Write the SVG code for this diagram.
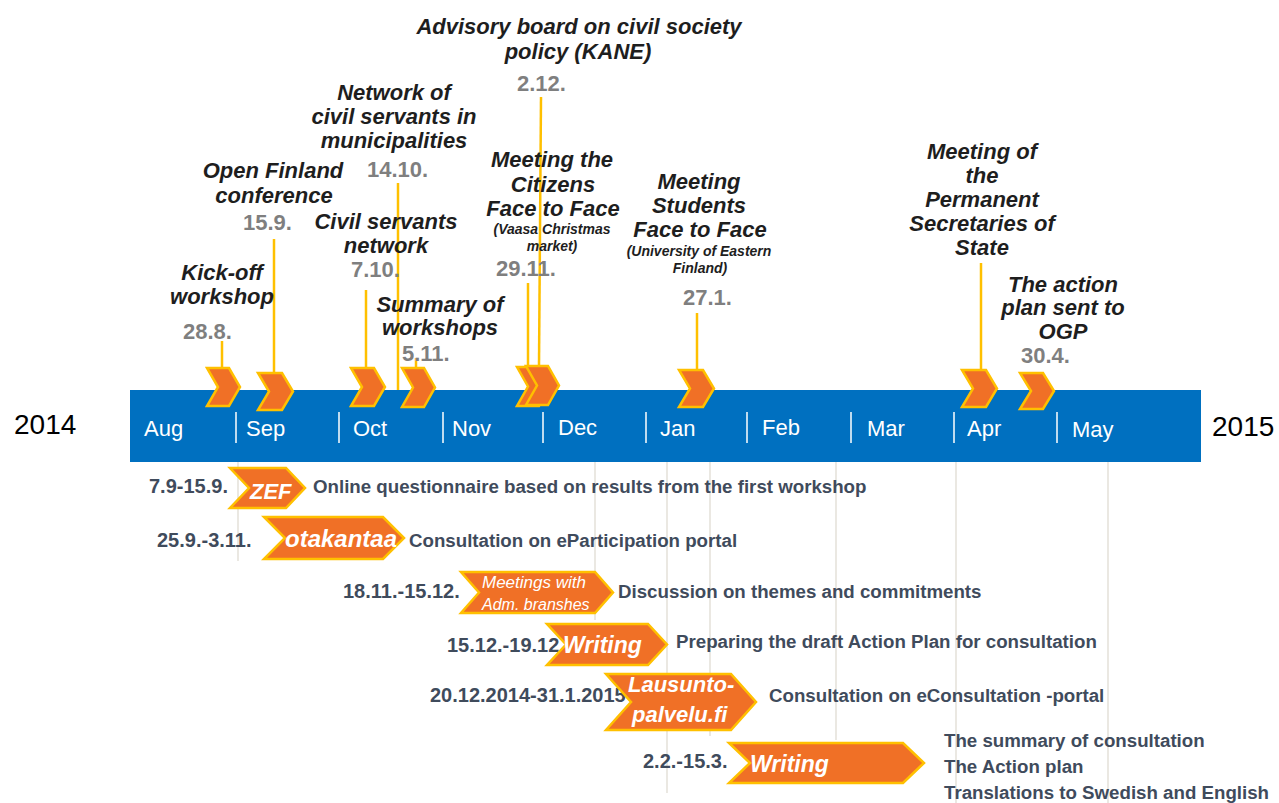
<svg xmlns="http://www.w3.org/2000/svg" width="1279" height="803" viewBox="0 0 1279 803">
<style>
.lbl{font-family:"Liberation Sans",Arial,sans-serif;font-weight:bold;font-style:italic;font-size:22px;fill:#1e1e1e;text-anchor:middle}
.sm{font-family:"Liberation Sans",Arial,sans-serif;font-weight:bold;font-style:italic;font-size:14px;fill:#1e1e1e;text-anchor:middle}
.dt{font-family:"Liberation Sans",Arial,sans-serif;font-weight:bold;font-size:22px;fill:#7f7f7f}
.mo{font-family:"Liberation Sans",Arial,sans-serif;font-size:22px;fill:#ffffff}
.yr{font-family:"Liberation Sans",Arial,sans-serif;font-size:28px;fill:#000000}
.bd{font-family:"Liberation Sans",Arial,sans-serif;font-weight:bold;font-size:20px;fill:#3f4b5c}
.ds{font-family:"Liberation Sans",Arial,sans-serif;font-weight:bold;font-size:18.7px;fill:#3f4b5c}
.ct{font-family:"Liberation Sans",Arial,sans-serif;font-weight:bold;font-style:italic;font-size:23px;fill:#ffffff}
.ci{font-family:"Liberation Sans",Arial,sans-serif;font-style:italic;font-size:17px;fill:#ffffff}
.chev{fill:#f07026;stroke:#ffc000;stroke-width:2.5;stroke-linejoin:miter}
.stem{stroke:#ffc000;stroke-width:2.5;fill:none}
.tick{stroke:#ffffff;stroke-width:1.5}
.grid{stroke:#ddd9cf;stroke-width:1.2}
</style>

<g id="gridlines">
<line class="grid" x1="238" y1="462" x2="238" y2="561"/>
<line class="grid" x1="595" y1="462" x2="595" y2="620"/>
<line class="grid" x1="667" y1="462" x2="667" y2="793"/>
<line class="grid" x1="710" y1="462" x2="710" y2="736"/>
<line class="grid" x1="836" y1="462" x2="836" y2="740"/>
<line class="grid" x1="956" y1="462" x2="956" y2="803"/>
<line class="grid" x1="1108" y1="462" x2="1108" y2="803"/>
</g>

<g id="timeline">
<rect x="130" y="390" width="1071" height="72" fill="#0070c0"/>
<line class="tick" x1="236" y1="412" x2="236" y2="443"/>
<line class="tick" x1="339" y1="412" x2="339" y2="443"/>
<line class="tick" x1="443" y1="412" x2="443" y2="443"/>
<line class="tick" x1="543" y1="412" x2="543" y2="443"/>
<line class="tick" x1="646" y1="412" x2="646" y2="443"/>
<line class="tick" x1="747" y1="412" x2="747" y2="443"/>
<line class="tick" x1="851" y1="412" x2="851" y2="443"/>
<line class="tick" x1="954" y1="412" x2="954" y2="443"/>
<line class="tick" x1="1057" y1="412" x2="1057" y2="443"/>
<text class="mo" x="144" y="436">Aug</text>
<text class="mo" x="246" y="436">Sep</text>
<text class="mo" x="353" y="436">Oct</text>
<text class="mo" x="452" y="436">Nov</text>
<text class="mo" x="558" y="435">Dec</text>
<text class="mo" x="660" y="436">Jan</text>
<text class="mo" x="762" y="435">Feb</text>
<text class="mo" x="867" y="436">Mar</text>
<text class="mo" x="967" y="436">Apr</text>
<text class="mo" x="1072" y="437">May</text>
<text class="yr" x="14" y="434">2014</text>
<text class="yr" x="1212" y="436">2015</text>
</g>

<g id="connectors">
<line class="stem" x1="222" y1="341" x2="222" y2="368"/>
<line class="stem" x1="274" y1="239" x2="274" y2="373"/>
<line class="stem" x1="366" y1="290" x2="366" y2="368"/>
<line class="stem" x1="398" y1="183" x2="398" y2="390"/>
<line class="stem" x1="416" y1="358" x2="416" y2="368"/>
<line class="stem" x1="528" y1="283" x2="528" y2="367"/>
<line class="stem" x1="541" y1="97" x2="539" y2="366"/>
<line class="stem" x1="697" y1="313" x2="697" y2="370"/>
<line class="stem" x1="981" y1="263" x2="981" y2="370"/>
</g>

<g id="kickoff">
<text class="lbl" x="222" y="280">Kick-off</text>
<text class="lbl" x="222" y="304">workshop</text>
<text class="dt" x="183" y="339">28.8.</text>
<polygon class="chev" points="207,368 229,368 240,387 229,406 207,406 218,387"/>
</g>

<g id="openfinland">
<text class="lbl" x="273" y="178">Open Finland</text>
<text class="lbl" x="274" y="203">conference</text>
<text class="dt" x="243" y="230">15.9.</text>
<polygon class="chev" points="258,373 282,373 293,391.5 282,410 258,410 269,391.5"/>
</g>

<g id="civilservants">
<text class="lbl" x="386" y="229">Civil servants</text>
<text class="lbl" x="386" y="253">network</text>
<text class="dt" x="351" y="277">7.10.</text>
<polygon class="chev" points="351,368 374,368 385,387 374,406 351,406 362,387"/>
</g>

<g id="municipalities">
<text class="lbl" x="394" y="100">Network of</text>
<text class="lbl" x="394" y="124">civil servants in</text>
<text class="lbl" x="394" y="148">municipalities</text>
<text class="dt" x="367" y="177">14.10.</text>
</g>

<g id="summary">
<text class="lbl" x="440" y="312">Summary of</text>
<text class="lbl" x="440" y="335">workshops</text>
<text class="dt" x="402" y="361">5.11.</text>
<polygon class="chev" points="402,368 424,368 435,387.5 424,407 402,407 413,387.5"/>
</g>

<g id="citizens">
<text class="lbl" x="552" y="167">Meeting the</text>
<text class="lbl" x="553" y="192">Citizens</text>
<text class="lbl" x="553" y="216">Face to Face</text>
<text class="sm" x="552" y="234">(Vaasa Christmas</text>
<text class="sm" x="552" y="251">market)</text>
<text class="dt" x="496" y="276">29.11.</text>
<polygon class="chev" points="517,367 539,367 550,386.5 539,406 517,406 528,386.5"/>
</g>

<g id="kane">
<text class="lbl" x="579" y="34">Advisory board on civil society</text>
<text class="lbl" x="578" y="59">policy (KANE)</text>
<text class="dt" x="517" y="91">2.12.</text>
<polygon class="chev" points="526,366 548,366 559,385.5 548,405 526,405 537,385.5"/>
</g>

<g id="students">
<text class="lbl" x="699" y="189">Meeting</text>
<text class="lbl" x="699" y="213">Students</text>
<text class="lbl" x="700" y="237">Face to Face</text>
<text class="sm" x="699" y="256">(University of Eastern</text>
<text class="sm" x="700" y="273">Finland)</text>
<text class="dt" x="683" y="305">27.1.</text>
<polygon class="chev" points="679,370 703,370 714,388.5 703,407 679,407 690,388.5"/>
</g>

<g id="secretaries">
<text class="lbl" x="982" y="159">Meeting of</text>
<text class="lbl" x="982" y="183">the</text>
<text class="lbl" x="982" y="207">Permanent</text>
<text class="lbl" x="982" y="231">Secretaries of</text>
<text class="lbl" x="982" y="255">State</text>
<polygon class="chev" points="962,370 986,370 997,388.5 986,407 962,407 973,388.5"/>
</g>

<g id="ogp">
<text class="lbl" x="1063" y="292">The action</text>
<text class="lbl" x="1063" y="315">plan sent to</text>
<text class="lbl" x="1063" y="339">OGP</text>
<text class="dt" x="1021" y="363">30.4.</text>
<polygon class="chev" points="1020,373 1043,373 1054,391 1043,409 1020,409 1031,391"/>
</g>

<g id="zef">
<text class="bd" x="149" y="493">7.9-15.9.</text>
<polygon class="chev" points="230,468 286,468 305,488 286,508 230,508 249,488"/>
<text class="ct" x="250" y="499" style="font-size:22px">ZEF</text>
<text class="ds" x="313" y="493">Online questionnaire based on results from the first workshop</text>
</g>

<g id="otakantaa">
<text class="bd" x="157" y="547">25.9.-3.11.</text>
<polygon class="chev" points="264,517 383,517 404,538 383,559 264,559 285,538"/>
<text class="ct" x="285" y="547" style="font-size:24px">otakantaa</text>
<text class="ds" x="409" y="547">Consultation on eParticipation portal</text>
</g>

<g id="meetings">
<text class="bd" x="343" y="598">18.11.-15.12.</text>
<polygon class="chev" points="461,572 595,572 613,592.5 595,613 461,613 479,592.5"/>
<text class="ci" x="482" y="588">Meetings with</text>
<text class="ci" x="482" y="610" style="font-size:16px">Adm. branshes</text>
<text class="ds" x="618" y="598">Discussion on themes and commitments</text>
</g>

<g id="writing1">
<text class="bd" x="447" y="652">15.12.-19.12</text>
<polygon class="chev" points="547,624 648,624 667,644.5 648,665 547,665 566,644.5"/>
<text class="ct" x="563" y="653">Writing</text>
<text class="ds" x="676" y="648">Preparing the draft Action Plan for consultation</text>
</g>

<g id="lausunto">
<text class="bd" x="430" y="702">20.12.2014-31.1.2015</text>
<polygon class="chev" points="606,674 731,674 756,702 731,730 606,730 631,702"/>
<text class="ct" x="628" y="692" style="font-size:22px">Lausunto-</text>
<text class="ct" x="632" y="722" style="font-size:22px">palvelu.fi</text>
<text class="ds" x="769" y="702">Consultation on eConsultation -portal</text>
</g>

<g id="writing2">
<text class="bd" x="643" y="768">2.2.-15.3.</text>
<polygon class="chev" points="729,743 903,743 924,763 903,783 729,783 750,763"/>
<text class="ct" x="750" y="772">Writing</text>
<text class="ds" x="944" y="747">The summary of consultation</text>
<text class="ds" x="944" y="773">The Action plan</text>
<text class="ds" x="944" y="799">Translations to Swedish and English</text>
</g>
</svg>
